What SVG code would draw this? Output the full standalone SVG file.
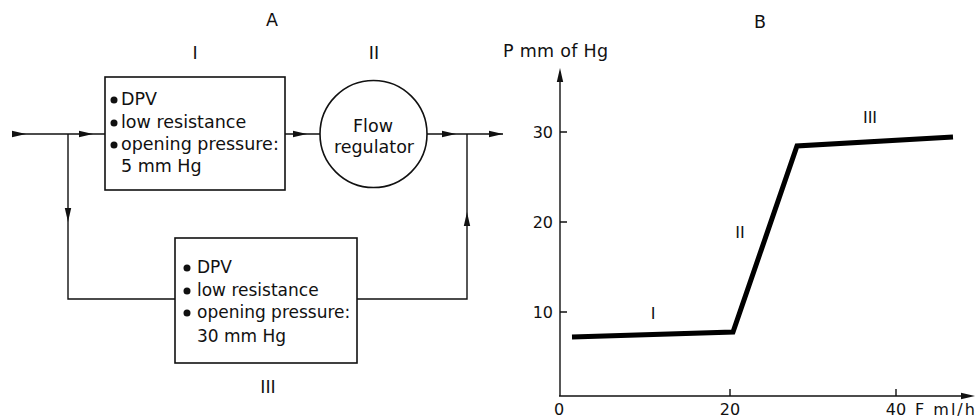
<svg xmlns="http://www.w3.org/2000/svg" xmlns:xlink="http://www.w3.org/1999/xlink" width="980" height="419" viewBox="0 0 980 419">
<defs>
<style>
text{font-family:"DejaVu Sans","Liberation Sans",sans-serif;fill:#111;}
.t{font-size:17.5px;}
.s{font-size:17px;}
.n{font-size:16px;}
.c{text-anchor:middle;}
.e{text-anchor:end;}
.ln{fill:none;stroke:#111;stroke-width:1.4;}
.box{fill:#fff;stroke:#111;stroke-width:1.6;}
.curve{fill:none;stroke:#000;stroke-width:5;stroke-linejoin:miter;}
.dot{fill:#111;}
.ah{fill:#111;}
</style>
<path id="ah" d="M0,0 L-14,-3.2 L-14,3.2 Z"/>
</defs>
<rect width="980" height="419" fill="#fff"/>

<text class="t c" x="272" y="26">A</text>
<text class="t c" x="195" y="59">I</text>
<text class="t c" x="374" y="59">II</text>

<g id="connectors">
<path class="ln" d="M12,134 H105"/>
<path class="ln" d="M285,134 H320"/>
<path class="ln" d="M427,134 H503"/>
<path class="ln" d="M68,134 V299 H175"/>
<path class="ln" d="M357,299 H467 V134"/>
<use xlink:href="#ah" class="ah" transform="translate(26,134)"/>
<use xlink:href="#ah" class="ah" transform="translate(93,134)"/>
<use xlink:href="#ah" class="ah" transform="translate(307,134)"/>
<use xlink:href="#ah" class="ah" transform="translate(456,134)"/>
<use xlink:href="#ah" class="ah" transform="translate(503,134)"/>
<use xlink:href="#ah" class="ah" transform="translate(68,222) rotate(90)"/>
<use xlink:href="#ah" class="ah" transform="translate(467,212) rotate(-90)"/>
</g>

<g id="node-I">
<rect class="box" x="105" y="77" width="180" height="113"/>
<circle class="dot" cx="114" cy="100" r="3.5"/>
<circle class="dot" cx="114" cy="123" r="3.5"/>
<circle class="dot" cx="114" cy="145" r="3.5"/>
<text class="t" x="121" y="105">DPV</text>
<text class="t" x="121" y="128">low resistance</text>
<text class="t" x="121" y="150">opening pressure:</text>
<text class="t" x="121" y="172">5 mm Hg</text>
</g>

<g id="node-II">
<circle class="box" cx="373.5" cy="134" r="53.5"/>
<text class="t c" x="373" y="132">Flow</text>
<text class="t c" x="374" y="153">regulator</text>
</g>

<g id="node-III">
<rect class="box" x="175" y="238" width="182" height="125"/>
<circle class="dot" cx="187" cy="268" r="3.5"/>
<circle class="dot" cx="187" cy="291" r="3.5"/>
<circle class="dot" cx="187" cy="313" r="3.5"/>
<text class="s" x="197" y="273">DPV</text>
<text class="s" x="197" y="296">low resistance</text>
<text class="s" x="197" y="318">opening pressure:</text>
<text class="s" x="197" y="342">30 mm Hg</text>
<text class="t c" x="268" y="393">III</text>
</g>

<g id="graph-B">
<text class="t c" x="760" y="28">B</text>
<text class="t" x="503" y="57" letter-spacing="0.3">P mm of Hg</text>
<path class="ln" d="M560,396 V72"/>
<use xlink:href="#ah" class="ah" transform="translate(560,68) rotate(-90)"/>
<path class="ln" d="M559,396 H962"/>
<use xlink:href="#ah" class="ah" transform="translate(975,396)"/>
<path class="ln" d="M560,132 H567 M560,222 H567 M560,312 H567 M730,396 V389 M896,396 V389"/>
<text class="n e" x="553" y="138">30</text>
<text class="n e" x="553" y="228">20</text>
<text class="n e" x="553" y="318">10</text>
<text class="n c" x="559" y="415">0</text>
<text class="n c" x="730" y="415">20</text>
<text class="n c" x="896" y="415">40</text>
<text class="n" x="915" y="415" letter-spacing="2">F ml/h</text>
<polyline class="curve" points="572,337 733,332 797,146 953,137"/>
<text class="n c" x="653" y="319">I</text>
<text class="n c" x="740" y="238">II</text>
<text class="n c" x="870" y="123">III</text>
</g>
</svg>
